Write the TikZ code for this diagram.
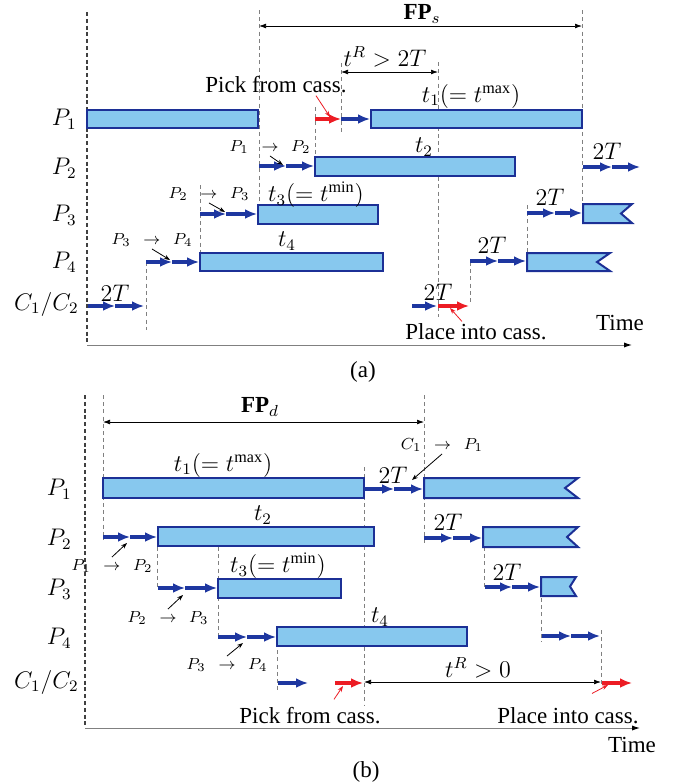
\documentclass[tikz,border=0pt]{standalone}
\usepackage{amsmath, amssymb}
\usepackage{fontspec}
\setmainfont{Liberation Serif}
\usepackage{tikz}
\usetikzlibrary{arrows.meta}
\usepackage{xcolor}
\definecolor{barfill}{RGB}{135,200,238}
\definecolor{bardraw}{RGB}{28,48,150}
\definecolor{stepblue}{RGB}{30,55,160}
\definecolor{pickred}{RGB}{236,28,36}

\begin{document}
\begin{tikzpicture}[x=0.5pt, y=-0.5pt, >={Latex[length=6pt,width=5pt]},
    lab/.style={font=\fontsize{11.5}{13}\selectfont, inner sep=1pt},
    tiny/.style={font=\fontsize{8}{9}\selectfont, inner sep=1pt},
    bar/.style={draw=bardraw, fill=barfill, line width=1pt},
    mv/.style={->, draw=stepblue, fill=stepblue, line width=1.7pt},
    mvred/.style={->, draw=pickred, fill=pickred, line width=1.7pt},
    guide/.style={gray, line width=0.4pt, dash pattern=on 2pt off 1.6pt},
    frame/.style={black!75, line width=0.6pt, dash pattern=on 2pt off 1.4pt},
    span/.style={<->, >={Latex[length=3.5pt,width=2.4pt]}, line width=0.35pt},
    note/.style={->, >={Stealth[length=3pt,width=2.2pt]}, line width=0.4pt},
    rednote/.style={note, pickred}]

    \useasboundingbox (0,0) rectangle (674,783);

    % ===== (a) =====
    % Frame and time axis
    \coordinate (origa) at (87,345);
    \coordinate (enda) at (632,345);
    \draw[frame] (87,12) -- (origa);
    \draw[->, gray, line width=0.5pt, >={Latex[black,length=4pt,width=2.6pt]}] (origa) -- (enda);
    \node[lab] at (620,323) (timea) {Time};
    \node[lab] at (363,372) (capa) {(a)};

    % Rows
    \node[lab, anchor=east] at (79,119) (P1a) {$P_1$};
    \node[lab, anchor=east] at (79,168) (P2a) {$P_2$};
    \node[lab, anchor=east] at (79,215) (P3a) {$P_3$};
    \node[lab, anchor=east] at (79,262) (P4a) {$P_4$};
    \node[lab, anchor=east] at (81,304) (Ca) {$C_1/C_2$};

    % Guide lines
    \draw[guide] (259,10) -- (259,205);
    \draw[guide] (582,10) -- (582,205);
    \draw[guide] (341,63) -- (341,133);
    \draw[guide] (438,62) -- (438,317);
    \draw[guide] (315,107) -- (315,157);
    \draw[guide] (200,185) -- (200,252);
    \draw[guide] (146,262) -- (146,330);
    \draw[guide] (527,205) -- (527,252);
    \draw[guide] (470,262) -- (470,305);

    % Process bars
    \draw[bar] (87,110) rectangle (258,128);
    \draw[bar] (371,110) rectangle (582,128);
    \draw[bar] (315,157) rectangle (515,176);
    \draw[bar] (258,205) rectangle (378,224);
    \draw[bar] (200,253) rectangle (383,271);
    \draw[bar] (527,253) -- (610,253) -- (597,262) -- (610,271) -- (527,271) -- cycle;
    \draw[bar] (583,204) -- (632,204) -- (621,213.5) -- (632,223) -- (583,223) -- cycle;

    % Robot moves
    \draw[mv] (88,306) -- (115,306); \draw[mv] (115,306) -- (144,306);
    \draw[mv] (146,262) -- (172,262); \draw[mv] (172,262) -- (199,262);
    \draw[mv] (200,214) -- (226,214); \draw[mv] (226,214) -- (257,214);
    \draw[mv] (259,166) -- (286,166); \draw[mv] (286,166) -- (314,166);
    \draw[mvred] (315,119) -- (341,119); \draw[mv] (341,119) -- (370,119);
    \draw[mv] (412,306) -- (437,306); \draw[mvred] (438,306) -- (469,306);
    \draw[mv] (470,261) -- (498,261); \draw[mv] (498,261) -- (526,261);
    \draw[mv] (527,213) -- (555,213); \draw[mv] (555,213) -- (582,213);
    \draw[mv] (583,167) -- (612,167); \draw[mv] (612,167) -- (640,167);

    % Labels
    \node[lab] at (471,96) (t1a) {$t_1(=t^{\max})$};
    \node[lab] at (424,147) (t2a) {$t_2$};
    \node[lab] at (316,195) (t3a) {$t_3(=t^{\min})$};
    \node[lab] at (287,241) (t4a) {$t_4$};
    \node[lab] at (115,293) (twoTa) {$2T$};
    \node[lab] at (492,245) (twoTb) {$2T$};
    \node[lab] at (550,197) (twoTc) {$2T$};
    \node[lab] at (607,151) (twoTd) {$2T$};
    \node[lab] at (438,292) (twoTe) {$2T$};
    \node[tiny] at (270,147) (m12a) {$P_1\enspace\rightarrow\enspace P_2$};
    \node[tiny] at (209,194) (m23a) {$P_2\enspace\rightarrow\enspace P_3$};
    \node[tiny] at (152,240) (m34a) {$P_3\enspace\rightarrow\enspace P_4$};
    \node[lab] at (276,85) (picka) {Pick from cass.};
    \node[lab] at (476,332) (placea) {Place into cass.};
    \node[lab] at (385,57) (tRa) {$t^R > 2T$};
    \node[lab] at (422,14) (FPs) {$\mathbf{FP}_s$};

    % Pointers
    \draw[note] (m12a.south) -- (283,165);
    \draw[note] (m23a.south) -- (225,212);
    \draw[note] (m34a.south) -- (170,260);
    \draw[rednote] ([xshift=20pt]picka.south) -- (330,117);
    \draw[rednote] ([xshift=-7pt]placea.north) -- (450,308);

    % Spans
    \draw[span] (259,26) -- (582,26);
    \draw[span] (341,72) -- (438,72);

    % ===== (b) =====
    % Frame and time axis
    \coordinate (origb) at (85,728);
    \coordinate (endb) at (640,728);
    \draw[frame] (85,395) -- (origb);
    \draw[->, gray, line width=0.5pt, >={Latex[black,length=4pt,width=2.6pt]}] (origb) -- (endb);
    \node[lab] at (632,745) (timeb) {Time};
    \node[lab] at (366,772) (capb) {(b)};

    % Rows
    \node[lab, anchor=east] at (74,489) (P1b) {$P_1$};
    \node[lab, anchor=east] at (74,539) (P2b) {$P_2$};
    \node[lab, anchor=east] at (74,589) (P3b) {$P_3$};
    \node[lab, anchor=east] at (74,638) (P4b) {$P_4$};
    \node[lab, anchor=east] at (81,682) (Cb) {$C_1/C_2$};

    % Guide lines
    \draw[guide] (103,395) -- (103,540);
    \draw[guide] (424,395) -- (424,545);
    \draw[guide] (364,467) -- (364,705);
    \draw[guide] (157,547) -- (157,590);
    \draw[guide] (218,547) -- (218,640);
    \draw[guide] (484,547) -- (484,590);
    \draw[guide] (277,643) -- (277,690);
    \draw[guide] (541,598) -- (541,642);
    \draw[guide] (601,630) -- (601,685);

    % Process bars
    \draw[bar] (103,478) rectangle (364,498);
    \draw[bar] (424,478) -- (578,478) -- (565,488) -- (578,498) -- (424,498) -- cycle;
    \draw[bar] (158,527) rectangle (374,546);
    \draw[bar] (483,527) -- (578,527) -- (567,537) -- (578,547) -- (483,547) -- cycle;
    \draw[bar] (218,579) rectangle (341,598);
    \draw[bar] (541,577) -- (576,577) -- (570,586.5) -- (576,596) -- (541,596) -- cycle;
    \draw[bar] (277,627) rectangle (467,646);

    % Robot moves
    \draw[mv] (364,489) -- (394,489); \draw[mv] (394,489) -- (423,489);
    \draw[mv] (103,537) -- (130,537); \draw[mv] (130,537) -- (157,537);
    \draw[mv] (424,538) -- (453,538); \draw[mv] (453,538) -- (482,538);
    \draw[mv] (158,588) -- (185,588); \draw[mv] (185,588) -- (217,588);
    \draw[mv] (485,587) -- (512,587); \draw[mv] (512,587) -- (540,587);
    \draw[mv] (218,637) -- (247,637); \draw[mv] (247,637) -- (276,637);
    \draw[mv] (542,636) -- (571,636); \draw[mv] (571,636) -- (600,636);
    \draw[mv] (278,683) -- (308,683);
    \draw[mvred] (335,683) -- (363,683);
    \draw[mvred] (602,683) -- (632,683);

    % Labels
    \node[lab] at (260,407) (FPd) {$\mathbf{FP}_d$};
    \node[lab] at (223,465) (t1b) {$t_1(=t^{\max})$};
    \node[lab] at (263,515) (t2b) {$t_2$};
    \node[lab] at (278,566) (t3b) {$t_3(=t^{\min})$};
    \node[lab] at (380,617) (t4b) {$t_4$};
    \node[lab] at (393,475) (twoTf) {$2T$};
    \node[lab] at (448,522) (twoTg) {$2T$};
    \node[lab] at (507,572) (twoTh) {$2T$};
    \node[tiny] at (442,445) (c1b) {$C_1\enspace\rightarrow\enspace P_1$};
    \node[tiny] at (112,566) (m12b) {$P_1\enspace\rightarrow\enspace P_2$};
    \node[tiny] at (168,618) (m23b) {$P_2\enspace\rightarrow\enspace P_3$};
    \node[tiny] at (227,665) (m34b) {$P_3\enspace\rightarrow\enspace P_4$};
    \node[lab] at (478,668) (tRb) {$t^R > 0$};
    \node[lab] at (310,716) (pickb) {Pick from cass.};
    \node[lab] at (568,716) (placeb) {Place into cass.};

    % Pointers
    \draw[note] (c1b.south) -- (412,480);
    \draw[note] (m12b.north) -- (127,543);
    \draw[note] (m23b.north) -- (183,595);
    \draw[note] (m34b.north) -- (243,643);
    \draw[rednote] ([xshift=12pt,yshift=3pt]pickb.north) -- (343,686);
    \draw[rednote] ([xshift=12pt,yshift=6pt]placeb.north) -- (608,685);

    % Spans
    \draw[span] (103,422) -- (424,422);
    \draw[span] (364,682) -- (601,682);

\end{tikzpicture}
\end{document}
